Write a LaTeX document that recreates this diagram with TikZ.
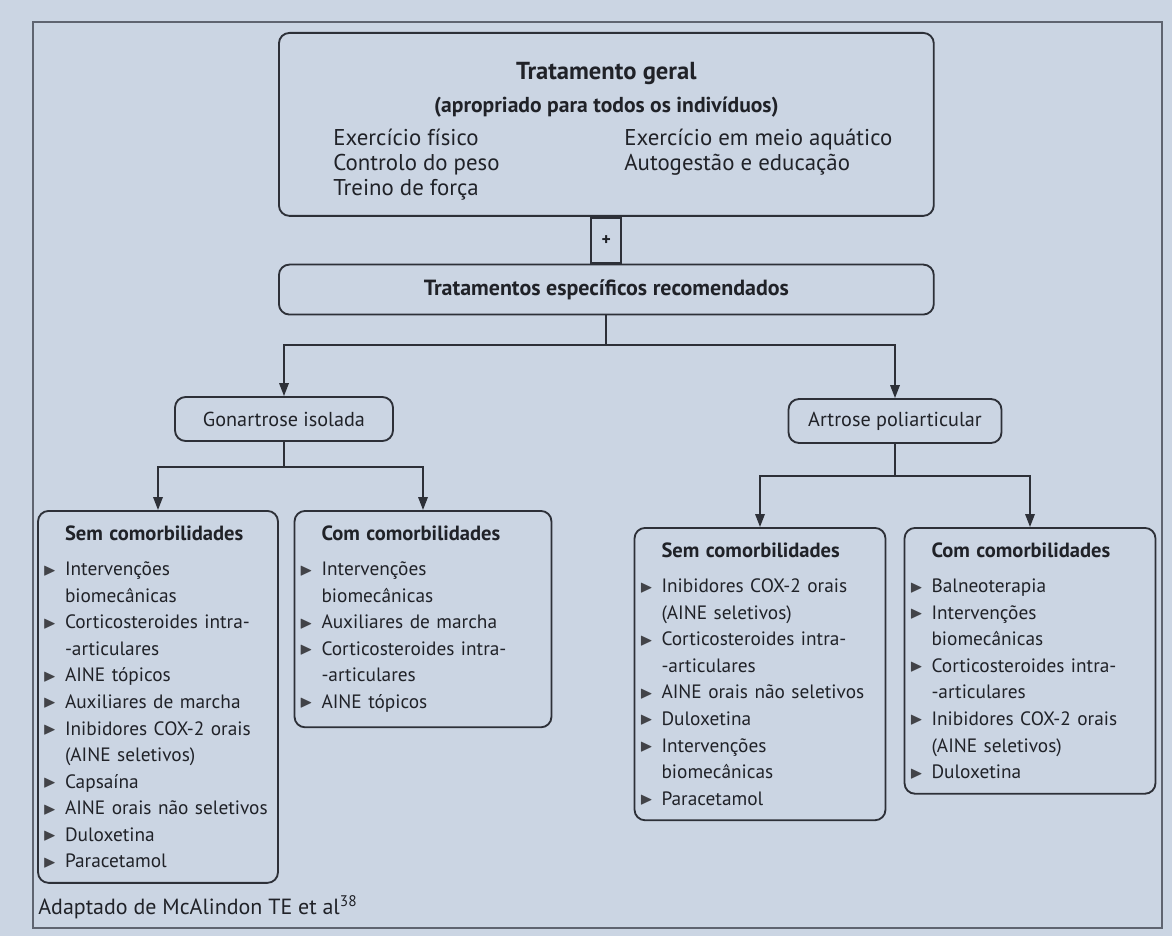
\documentclass[tikz,border=0pt]{standalone}
\usepackage{amssymb}
\usepackage{graphicx}
\usepackage{fontspec}
\setmainfont{PT Sans}
\usetikzlibrary{positioning,arrows.meta}

\definecolor{papel}{RGB}{203,213,227}
\definecolor{linha}{RGB}{45,48,56}
\definecolor{texto}{RGB}{32,34,40}
\definecolor{moldura}{RGB}{95,100,112}

% marcador das listas
\newcommand{\marca}{\leavevmode\llap{\textcolor{texto!85}{\raisebox{0.3pt}{\scalebox{0.9}{$\blacktriangleright$}}}\hspace{0.17cm}}}
\newcommand{\cabeca}[1]{{\fontsize{11.7}{15.1}\selectfont\bfseries #1}\par\vspace{5pt}}

\begin{document}
\begin{tikzpicture}[x=0.02cm, y=-0.02cm,
  caixa/.style={draw=linha, line width=1.05pt, rounded corners=6pt, fill=papel,
                align=center, text=texto, font=\fontsize{11.5}{14.2}\selectfont},
  lista/.style={caixa, align=left, anchor=north, text width=#1, inner xsep=0.18cm,
                inner ysep=8.5pt, font=\fontsize{11}{15.1}\selectfont},
  mais/.style={draw=linha, line width=1.05pt, minimum width=0.6cm, minimum height=0.9cm,
               inner sep=0pt, font=\bfseries, text=texto},
  seta/.style={-{Triangle[length=2.6mm, width=1.9mm]}, line width=1pt, draw=linha},
]
% ---- fundo e moldura
\fill[papel] (0,0) rectangle (1172,936);
\useasboundingbox (0,0) rectangle (1172,936);
\draw[moldura, line width=0.7pt] (33,22) rectangle (1162,928);

% ---- Tratamento geral
\node[caixa, anchor=north west, minimum width=13.1cm, minimum height=3.66cm,
      font=\fontsize{13}{14.2}\selectfont] (geral) at (278,32)
  {\rule{0pt}{19pt}{\fontsize{14}{16}\selectfont\bfseries Tratamento geral}\\[5pt]
   {\fontsize{12.3}{14}\selectfont\bfseries (apropriado para todos os indivíduos)}\\[5pt]
   \hspace*{0.26cm}\begin{tabular}{@{}p{5.82cm}@{}l@{}}
   Exercício físico & Exercício em meio aquático\\
   Controlo do peso & Autogestão e educação\\
   Treino de força  & \\
   \end{tabular}};
\node[mais, anchor=north] (soma) at (geral.south) {+};
\node[caixa, anchor=north, minimum width=13.1cm, minimum height=1cm] (espec) at (soma.south)
  {\fontsize{12.5}{15}\selectfont\bfseries Tratamentos específicos recomendados};

% ---- Linha 2: tipos de artrose
\node[caixa, minimum width=4.36cm, minimum height=0.88cm] (gon) at (284,419) {Gonartrose isolada};
\node[caixa, minimum width=4.26cm, minimum height=0.88cm] (art) at (895,421) {Artrose poliarticular};

% ---- Linha 3: listas
\node[lista=4.44cm] (gsem) at (158,510) {\leftskip=0.36cm \rightskip=-0.4cm plus 1fil
  \cabeca{Sem comorbilidades}
  \marca Intervenções\newline biomecânicas\par
  \marca Corticosteroides intra-\newline -articulares\par
  \marca AINE tópicos\par
  \marca Auxiliares de marcha\par
  \marca Inibidores COX-2 orais\newline (AINE seletivos)\par
  \marca Capsaína\par
  \marca AINE orais não seletivos\par
  \marca Duloxetina\par
  \marca Paracetamol\par};
\node[lista=4.78cm] (gcom) at (423,510) {\leftskip=0.36cm \rightskip=-0.4cm plus 1fil
  \cabeca{Com comorbilidades}
  \marca Intervenções\newline biomecânicas\par
  \marca Auxiliares de marcha\par
  \marca Corticosteroides intra-\newline -articulares\par
  \marca AINE tópicos\par};
\node[lista=4.66cm] (asem) at (760,527) {\leftskip=0.36cm \rightskip=-0.4cm plus 1fil
  \cabeca{Sem comorbilidades}
  \marca Inibidores COX-2 orais\newline (AINE seletivos)\par
  \marca Corticosteroides intra-\newline -articulares\par
  \marca AINE orais não seletivos\par
  \marca Duloxetina\par
  \marca Intervenções\newline biomecânicas\par
  \marca Paracetamol\par};
\node[lista=4.66cm] (acom) at (1030,527) {\leftskip=0.36cm \rightskip=-0.4cm plus 1fil
  \cabeca{Com comorbilidades}
  \marca Balneoterapia\par
  \marca Intervenções\newline biomecânicas\par
  \marca Corticosteroides intra-\newline -articulares\par
  \marca Inibidores COX-2 orais\newline (AINE seletivos)\par
  \marca Duloxetina\par};

\node[anchor=west, text=texto, inner sep=0pt, font=\fontsize{12.5}{15}\selectfont] (fonte) at (38,907)
  {Adaptado de McAlindon TE et al\textsuperscript{38}};

% ---- Setas
\coordinate (ramo1) at (605,345);
\coordinate (ramo2) at (284,467);
\coordinate (ramo3) at (895,476);
\draw[seta] (espec.south) -- (espec.south |- ramo1) -| (gon.north);
\draw[seta] (espec.south) -- (espec.south |- ramo1) -| (art.north);
\draw[seta] (gon.south) -- (gon.south |- ramo2) -| (gsem.north);
\draw[seta] (gon.south) -- (gon.south |- ramo2) -| (gcom.north);
\draw[seta] (art.south) -- (art.south |- ramo3) -| (asem.north);
\draw[seta] (art.south) -- (art.south |- ramo3) -| (acom.north);
\end{tikzpicture}
\end{document}
